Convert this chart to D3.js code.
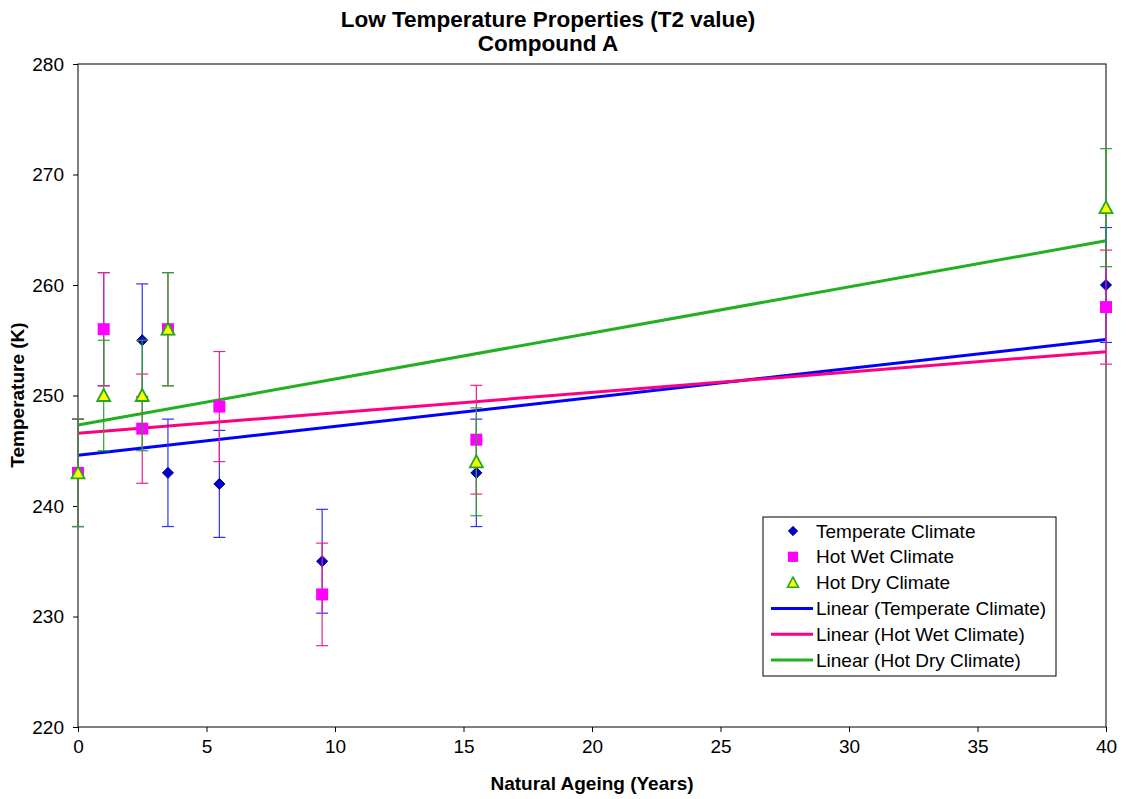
<!DOCTYPE html>
<html>
<head>
    <style>
        body {
            margin: 0;
            background-color: #ffffff;
            font-family: Arial, "Liberation Sans", sans-serif;
        }
        .axis path, .axis line {
            stroke: #000;
        }
        .axis text {
            font-size: 19px !important;
            font-family: Arial, "Liberation Sans", sans-serif;
            fill: #000;
        }
    </style>
</head>
<body>
    <div id="chart"></div>
    <script src="https://d3js.org/d3.v7.min.js"></script>
    <script>
        // years of natural ageing for each series
        var tempX = [0, 1, 2.5, 3.5, 5.5, 9.5, 15.5, 40];
        var tempY = [243, 256, 255, 243, 242, 235, 243, 260];

        var wetX = [0, 1, 2.5, 3.5, 5.5, 9.5, 15.5, 40];
        var wetY = [243, 256, 247, 256, 249, 232, 246, 258];

        var dryX = [0, 1, 2.5, 3.5, 15.5, 40];
        var dryY = [243, 250, 250, 256, 244, 267];

        var errorPct = 0.02; // error bars are 2% of the value

        var xTicks = [0, 5, 10, 15, 20, 25, 30, 35, 40];
        var yTicks = [220, 230, 240, 250, 260, 270, 280];

        var seriesNames = ["Temperate Climate", "Hot Wet Climate", "Hot Dry Climate"];

        var W = 1128, H = 799;
        var margin = {top: 64, right: 22, bottom: 72, left: 78};

        var svg = d3.select("#chart").append("svg")
            .attr("width", W)
            .attr("height", H);

        var x = d3.scaleLinear().domain([0, 40]).range([margin.left, W - margin.right]);
        var y = d3.scaleLinear().domain([220, 280]).range([H - margin.bottom, margin.top]);

        // frame of plot area
        svg.append("rect")
            .attr("x", x(0)).attr("y", y(280))
            .attr("width", x(40) - x(0)).attr("height", y(220) - y(280))
            .attr("fill", "none").attr("stroke", "#000").attr("stroke-width", 1);

        svg.append("g")
            .attr("class", "axis")
            .attr("transform", "translate(0," + y(220) + ")")
            .call(d3.axisBottom(x).tickValues(xTicks).tickSize(5).tickPadding(8))
            .call(function(g) { g.select(".domain").remove(); });

        svg.append("g")
            .attr("class", "axis")
            .attr("transform", "translate(" + x(0) + ",0)")
            .call(d3.axisLeft(y).tickValues(yTicks).tickSize(5).tickPadding(9))
            .call(function(g) { g.select(".domain").remove(); });

        // titles
        svg.append("text").attr("x", 548).attr("y", 27)
            .attr("text-anchor", "middle").attr("font-size", 22.5).attr("font-weight", "bold")
            .text("Low Temperature Properties (T2 value)");
        svg.append("text").attr("x", 548).attr("y", 51)
            .attr("text-anchor", "middle").attr("font-size", 22.5).attr("font-weight", "bold")
            .text("Compound A");
        svg.append("text").attr("x", 592).attr("y", 790)
            .attr("text-anchor", "middle").attr("font-size", 19).attr("font-weight", "bold")
            .text("Natural Ageing (Years)");
        svg.append("text")
            .attr("transform", "translate(24,395) rotate(-90)")
            .attr("text-anchor", "middle").attr("font-size", 19).attr("font-weight", "bold")
            .text("Temperature (K)");

        function linearFit(xs, ys) {
            var mx = d3.mean(xs), my = d3.mean(ys);
            var sxy = 0, sxx = 0;
            xs.forEach(function(v, i) {
                sxy += (v - mx) * (ys[i] - my);
                sxx += (v - mx) * (v - mx);
            });
            var slope = sxy / sxx;
            return {slope: slope, intercept: my - slope * mx};
        }

        var series = [
            {xs: tempX, ys: tempY, bar: "#3030ff", line: "#0000ff", shape: "diamond"},
            {xs: wetX, ys: wetY, bar: "#f0208a", line: "#ff0080", shape: "square"},
            {xs: dryX, ys: dryY, bar: "#2aa52a", line: "#22b022", shape: "triangle"}
        ];

        function marker(g, shape) {
            if (shape == "diamond") {
                g.append("path").attr("d", "M0,-5.5 L5.5,0 L0,5.5 L-5.5,0 Z")
                    .attr("fill", "#0000cc").attr("stroke", "#00007a").attr("stroke-width", 1);
            } else if (shape == "square") {
                g.append("rect").attr("x", -6).attr("y", -6).attr("width", 12).attr("height", 12)
                    .attr("fill", "#ff00ff");
            } else {
                g.append("path").attr("d", "M0,-6.5 L6.5,5.5 L-6.5,5.5 Z")
                    .attr("fill", "#ffff00").attr("stroke", "#22a822").attr("stroke-width", 1.8);
            }
        }

        // trend lines drawn first
        var trendLayer = svg.append("g");
        var pointLayer = svg.append("g");

        series.forEach(function(s) {
            var fit = linearFit(s.xs, s.ys);
            trendLayer.append("line")
                .attr("x1", x(0)).attr("y1", y(fit.intercept))
                .attr("x2", x(40)).attr("y2", y(fit.intercept + fit.slope * 40))
                .attr("stroke", s.line).attr("stroke-width", 3);

            var g = pointLayer.append("g");
            s.xs.forEach(function(v, i) {
                var val = s.ys[i];
                var hi = y(val * (1 + errorPct)), lo = y(val * (1 - errorPct));
                var cx = x(v);
                g.append("line").attr("x1", cx).attr("x2", cx).attr("y1", hi).attr("y2", lo)
                    .attr("stroke", s.bar).attr("stroke-width", 1.2);
                [hi, lo].forEach(function(yy) {
                    g.append("line").attr("x1", cx - 6).attr("x2", cx + 6).attr("y1", yy).attr("y2", yy)
                        .attr("stroke", s.bar).attr("stroke-width", 1.2);
                });
            });
            s.xs.forEach(function(v, i) {
                var m = g.append("g").attr("transform", "translate(" + x(v) + "," + y(s.ys[i]) + ")");
                marker(m, s.shape);
            });
        });

        // legend
        var leg = svg.append("g").attr("transform", "translate(763,517)");
        leg.append("rect").attr("width", 293).attr("height", 159)
            .attr("fill", "#fff").attr("stroke", "#000").attr("stroke-width", 1);
        var labels = seriesNames.concat(seriesNames.map(function(n) { return "Linear (" + n + ")"; }));
        labels.forEach(function(lab, i) {
            var ry = 14 + i * 25.8;
            var s = series[i % 3];
            if (i < 3) {
                var m = leg.append("g").attr("transform", "translate(30," + ry + ") scale(0.85)");
                marker(m, s.shape);
            } else {
                leg.append("line").attr("x1", 8).attr("x2", 50).attr("y1", ry).attr("y2", ry)
                    .attr("stroke", s.line).attr("stroke-width", 3);
            }
            leg.append("text").attr("x", 53).attr("y", ry + 6.5)
                .attr("font-size", 19).text(lab);
        });
    </script>
</body>
</html>
